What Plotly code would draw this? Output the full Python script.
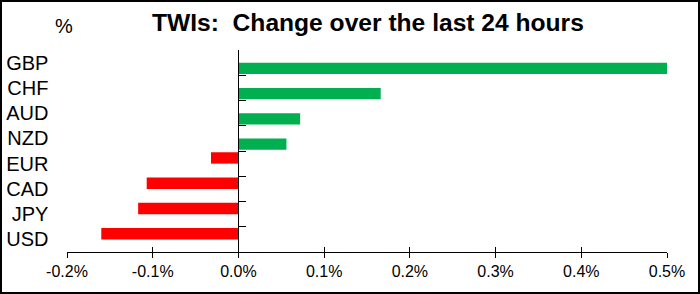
import plotly.graph_objects as go

categories = ["GBP", "CHF", "AUD", "NZD", "EUR", "CAD", "JPY", "USD"]
changes = [0.501, 0.166, 0.072, 0.056, -0.032, -0.107, -0.117, -0.160]
tick_vals = [-0.2, -0.1, 0.0, 0.1, 0.2, 0.3, 0.4, 0.5]
tick_labels = ["-0.2%", "-0.1%", "0.0%", "0.1%", "0.2%", "0.3%", "0.4%", "0.5%"]

pos_vals = [v if v > 0 else None for v in changes]
neg_vals = [v if v < 0 else None for v in changes]

GREEN = "#00B050"
RED = "#FF0000"
FONT = "Liberation Sans, Arial, sans-serif"

W, H = 700, 294
ML, MR, MT, MB = 67, 33, 50, 42
PW, PH = W - ML - MR, H - MT - MB

fig = go.Figure()
fig.add_trace(go.Bar(y=categories, x=neg_vals, orientation="h", marker_color=RED,
                     marker_line_width=0, width=0.45, offset=-0.45, hoverinfo="x+y"))
fig.add_trace(go.Bar(y=categories, x=pos_vals, orientation="h", marker_color=GREEN,
                     marker_line_width=0, width=0.45, offset=0.0, hoverinfo="x+y",
                     xaxis="x2"))

x_range = [-0.2, 0.5]
zero_pos = (0 - x_range[0]) / (x_range[1] - x_range[0])

fig.update_layout(
    width=W, height=H,
    margin=dict(l=ML, r=MR, t=MT, b=MB, pad=0),
    paper_bgcolor="white", plot_bgcolor="white",
    barmode="overlay",
    showlegend=False,
    font=dict(family=FONT, color="black"),
    xaxis=dict(range=x_range, tickvals=tick_vals, ticktext=tick_labels,
               showgrid=False, zeroline=False, showline=True, linecolor="black",
               linewidth=1, ticks="outside", ticklen=5, tickcolor="black",
               tickfont=dict(size=16, family=FONT), automargin=False, fixedrange=True),
    xaxis2=dict(range=x_range, matches="x", tickvals=tick_vals, overlaying="x", anchor="y",
                side="bottom", showticklabels=False, showgrid=False, zeroline=False,
                showline=False, ticks="inside", ticklen=5, tickcolor="black",
                automargin=False, fixedrange=True),
    yaxis=dict(range=[len(categories) - 0.5, -0.5], type="category",
               anchor="free", position=zero_pos,
               showgrid=False, zeroline=False, showline=True, linecolor="black", linewidth=1,
               ticks="inside", tickson="boundaries", ticklen=7, tickcolor="black",
               tickfont=dict(size=20, family=FONT),
               ticklabelstandoff=186, automargin=False, fixedrange=True),
)

fig.add_annotation(text="<b>TWIs:\u00a0 Change over the last 24 hours</b>",
                   xref="paper", yref="paper",
                   x=(368.5 - ML) / PW, y=(MT + PH - 22) / PH,
                   xanchor="center", yanchor="middle", showarrow=False,
                   font=dict(size=24.6, family=FONT, color="black"))
fig.add_annotation(text="%", xref="paper", yref="paper",
                   x=(64 - ML) / PW, y=(MT + PH - 26) / PH,
                   xanchor="center", yanchor="middle", showarrow=False,
                   font=dict(size=20, family=FONT, color="black"))

# outer frame
fig.add_shape(type="rect", xref="paper", yref="paper",
              x0=(1 - ML) / PW, x1=(W - 1 - ML) / PW,
              y0=(MT + PH - (H - 1)) / PH, y1=(MT + PH - 1) / PH,
              line=dict(color="black", width=2), fillcolor="rgba(0,0,0,0)", layer="above")

fig.write_html("out.html")
